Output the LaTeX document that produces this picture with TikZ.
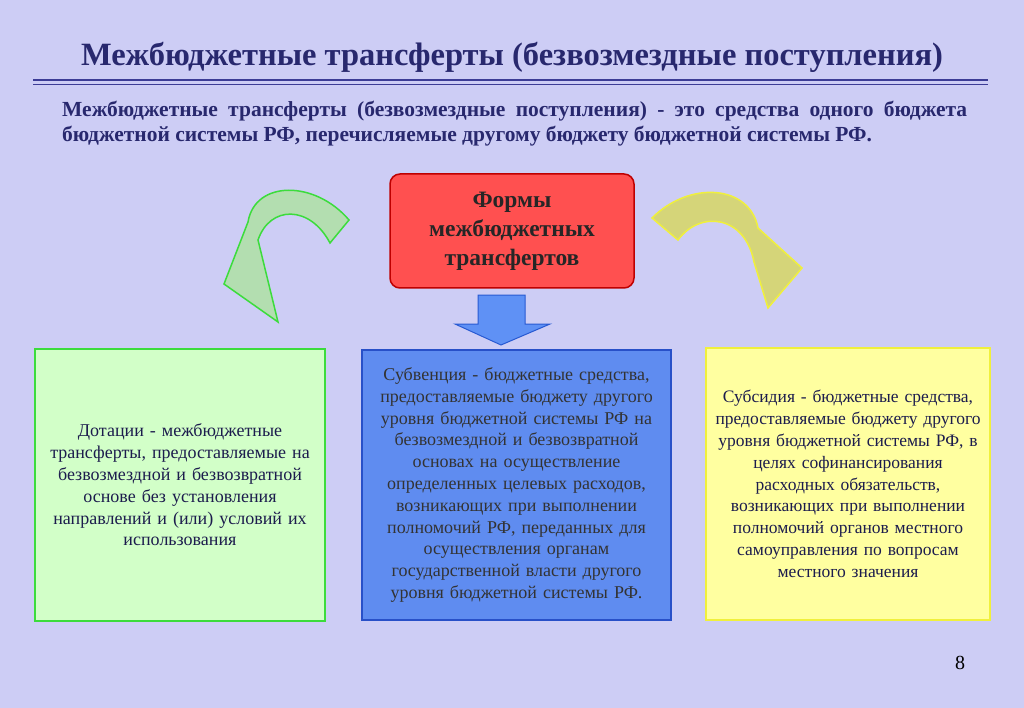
\documentclass[tikz,border=0pt]{standalone}
\usepackage{fontspec}
\setmainfont{Liberation Serif}
\definecolor{bg}{RGB}{205,205,245}
\definecolor{navy}{RGB}{40,40,110}
\definecolor{lineblue}{RGB}{60,60,150}
\begin{document}
\begin{tikzpicture}[x=1pt,y=-1pt,
  box/.style={draw,line width=1.5pt,align=center,inner sep=2pt},
  body/.style={font=\fontsize{18}{21.8}\selectfont,text=navy!70!black}]
\fill[bg] (0,0) rectangle (1024,708);
\useasboundingbox (0,0) rectangle (1024,708);
\node[font=\bfseries\fontsize{32.5}{36}\selectfont,text=navy] (title) at (512,57) {Межбюджетные трансферты (безвозмездные поступления)};
\draw[lineblue,line width=2pt] (33,80) -- (988,80);
\draw[lineblue,line width=1pt] (33,84.5) -- (988,84.5);
\node[font=\bfseries\fontsize{21.5}{25}\selectfont,text=navy,text width=905pt,align=justify,anchor=north west,inner sep=0pt] (def) at (62,101) {Межбюджетные трансферты (безвозмездные поступления) - это средства одного бюджета бюджетной системы РФ, перечисляемые другому бюджету бюджетной системы РФ.};
\node[box,draw=red!75!black,fill={rgb,255:red,255;green,80;blue,80},rounded corners=10pt,minimum width=244pt,minimum height=114pt,font=\bfseries\fontsize{23.5}{29}\selectfont,text=black!85] (forms) at (512,231) {Формы\\межбюджетных\\трансфертов};
\node[box,draw={rgb,255:red,60;green,220;blue,60},fill={rgb,255:red,210;green,255;blue,200},minimum width=290pt,minimum height=272pt,text width=280pt,body] (dot) at (180,485) {Дотации - межбюджетные\\трансферты, предоставляемые на\\безвозмездной и безвозвратной\\основе без установления\\направлений и (или) условий их\\использования};
\node[box,draw={rgb,255:red,40;green,80;blue,200},fill={rgb,255:red,95;green,140;blue,240},minimum width=309pt,minimum height=270pt,text width=300pt,body,text=black!80] (sub) at (516.5,485) {Субвенция - бюджетные средства,\\предоставляемые бюджету другого\\уровня бюджетной системы РФ на\\безвозмездной и безвозвратной\\основах на осуществление\\определенных целевых расходов,\\возникающих при выполнении\\полномочий РФ, переданных для\\осуществления органам\\государственной власти другого\\уровня бюджетной системы РФ.};
\node[box,draw={rgb,255:red,240;green,240;blue,60},fill={rgb,255:red,255;green,255;blue,160},minimum width=284pt,minimum height=272pt,text width=276pt,body,font=\fontsize{17.5}{21.8}\selectfont] (sid) at (848,484) {Субсидия - бюджетные средства,\\предоставляемые бюджету другого\\уровня бюджетной системы РФ, в\\целях софинансирования\\расходных обязательств,\\возникающих при выполнении\\полномочий органов местного\\самоуправления по вопросам\\местного значения};
% blue down arrow
\draw[draw={rgb,255:red,40;green,90;blue,210},fill={rgb,255:red,95;green,145;blue,245},line width=1pt]
 (478,295) -- (525,295) -- (525,324) -- (550,324) -- (501,345) -- (455,324) -- (478,324) -- cycle;
% green curved arrow
\draw[draw={rgb,255:red,60;green,220;blue,60},fill={rgb,255:red,175;green,225;blue,165},fill opacity=0.85,line width=1.5pt]
 (349,220) .. controls (315,180) and (255,180) .. (248,222) -- (224,284) -- (278,322) -- (258,240)
 .. controls (270,205) and (310,205) .. (330,243) -- cycle;
% yellow curved arrow
\draw[draw={rgb,255:red,240;green,240;blue,60},fill={rgb,255:red,215;green,215;blue,100},fill opacity=0.85,line width=1.5pt]
 (652,218) .. controls (690,180) and (750,185) .. (758,228) -- (802,268) -- (768,308) -- (754,262)
 .. controls (745,215) and (700,210) .. (678,240) -- cycle;
\node[font=\fontsize{20}{22}\selectfont] (pg) at (960,663) {8};
\end{tikzpicture}
\end{document}
